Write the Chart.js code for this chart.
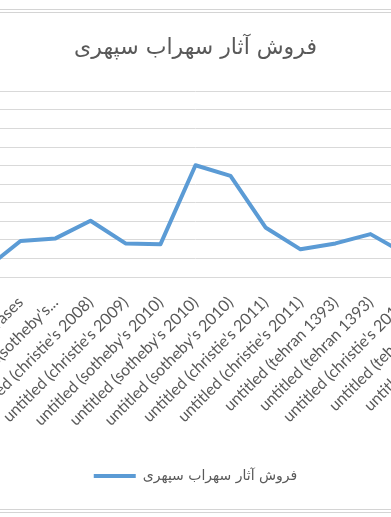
<!DOCTYPE html>
<html>
<head>
<meta charset="utf-8">
<script src="https://cdn.jsdelivr.net/npm/chart.js@4.4.0/dist/chart.umd.min.js"></script>
<style>
html, body { margin: 0; padding: 0; background: #fff; overflow: hidden; }
body { width: 391px; height: 517px; position: relative; }
#wrap { position: absolute; left: -102px; top: 0; width: 595px; height: 517px; }
.rule { position: absolute; left: 0; width: 391px; height: 1px; background: #d4d4d4; }
</style>
</head>
<body>
<div class="rule" style="top:9px"></div>
<div class="rule" style="top:12px"></div>
<div id="wrap"><canvas id="myChart"></canvas></div>
<div class="rule" style="top:509px"></div>
<div class="rule" style="top:512px"></div>
<script>
// artworks (the chart is cropped: first and last few sit outside the window)
var categories = [
  "untitled (christie's 2006)",
  "untitled (sotheby's 2007)",
  "untitled (christie's 2007)",
  "Vases",
  "Untitled Trees(sotheby's...",
  "untitled (christie's 2008)",
  "untitled (christie's 2009)",
  "untitled (sotheby's 2010)",
  "untitled (sotheby's 2010)",
  "untitled (sotheby's 2010)",
  "untitled (christie's 2011)",
  "untitled (christie's 2011)",
  "untitled (tehran 1393)",
  "untitled (tehran 1393)",
  "untitled (christie's 2013)",
  "untitled (tehran 1394)",
  "untitled (tehran 1395)"
];
var sales = [80, 30, 43, 194, 208, 303, 181, 177, 602, 545, 267, 149, 181, 231, 124, 90, 140];
var seriesName = 'فروش آثار سهراب سپهری';
var chartTitle = 'فروش آثار سهراب سپهری';
var yMin = 0, yMax = 1000, yStep = 100;

var grey = '#595959';
var ctx = document.getElementById('myChart');

var myChart = new Chart(ctx, {
  type: 'line',
  data: {
    labels: categories,
    datasets: [{
      label: seriesName,
      data: sales,
      borderColor: '#5b9bd5',
      backgroundColor: '#5b9bd5',
      borderWidth: 4,
      borderJoinStyle: 'round',
      borderCapStyle: 'round',
      pointRadius: 0,
      tension: 0,
      fill: false
    }]
  },
  options: {
    responsive: true,
    maintainAspectRatio: false,
    animation: false,
    layout: { padding: { left: 0, right: 0, top: 0, bottom: 24 } },
    plugins: {
      tooltip: { enabled: false },
      title: {
        display: true,
        text: chartTitle,
        color: grey,
        font: { size: 22, weight: 'normal', family: "'DejaVu Sans', sans-serif" },
        padding: { top: 35, bottom: 30 }
      },
      legend: {
        position: 'bottom',
        labels: {
          usePointStyle: true,
          pointStyle: 'line',
          pointStyleWidth: 42,
          color: grey,
          padding: 10,
          font: { size: 14, family: "'DejaVu Sans', sans-serif" }
        }
      }
    },
    scales: {
      x: {
        offset: true,
        grid: { display: false },
        border: { display: true, color: '#d9d9d9', width: 1 },
        ticks: {
          autoSkip: false,
          minRotation: 45,
          maxRotation: 45,
          padding: 8,
          color: grey,
          font: { size: 16, family: "Lato, 'Open Sans', sans-serif" }
        },
        afterFit: function(scale) {
          scale.height = 182;
          scale.paddingLeft = 0;
          scale.paddingRight = 0;
        }
      },
      y: {
        min: yMin,
        max: yMax,
        ticks: { display: false, stepSize: yStep },
        grid: { color: '#d9d9d9', lineWidth: 1, drawTicks: false },
        border: { display: false },
        afterFit: function(scale) {
          scale.width = 0;
        }
      }
    }
  }
});
</script>
</body>
</html>
